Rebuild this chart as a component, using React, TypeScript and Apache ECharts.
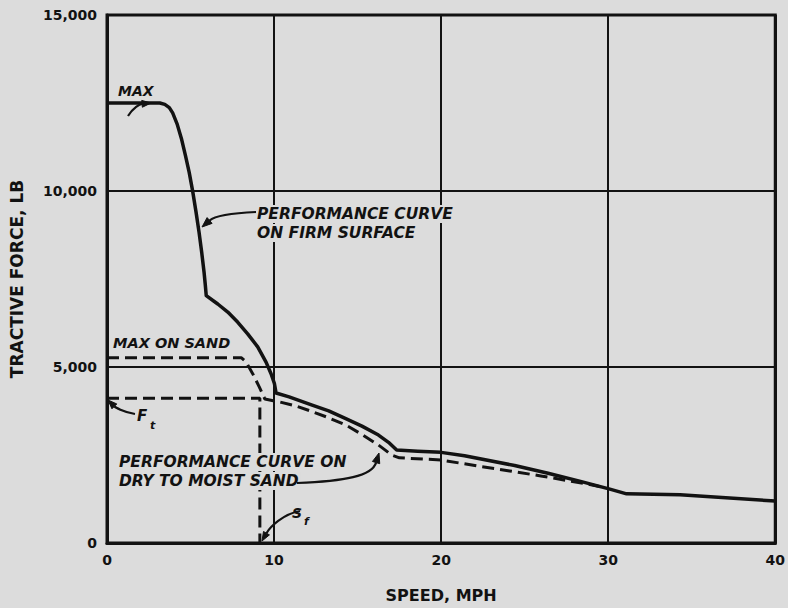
import React, { useEffect, useRef } from "react";
import * as echarts from "echarts";

// ---- data ----
const speedTicks = [0, 10, 20, 30, 40];
const forceTicks = [0, 5000, 10000, 15000];

// Performance curve on firm surface (speed mph, tractive force lb)
const firmSurface: [number, number][] = [
  [0, 12500], [3.16, 12500], [3.46, 12460], [3.73, 12370], [3.93, 12220],
  [4.2, 11900], [4.47, 11460], [4.7, 11000], [4.92, 10530], [5.13, 9990],
  [5.33, 9400], [5.51, 8830], [5.67, 8250], [5.81, 7690], [5.88, 7350],
  [5.94, 7030], [6.63, 6790], [7.23, 6560], [7.83, 6270], [8.42, 5940],
  [9.02, 5570], [9.52, 5140], [9.82, 4810], [10.02, 4530], [10.12, 4260],
  [10.9, 4150], [12.28, 3915], [13.27, 3755], [14.26, 3540], [15.26, 3320],
  [16.25, 3066], [16.85, 2860], [17.34, 2640], [18.6, 2610], [20, 2575],
  [21.4, 2480], [24.4, 2200], [26.4, 1980], [28.4, 1745], [30.1, 1530],
  [31.1, 1396], [34.3, 1368], [40, 1190],
];

// Max on sand / performance curve on dry to moist sand
const sandCurve: [number, number][] = [
  [0, 5260], [8.05, 5260], [8.33, 5140], [8.72, 4810], [9.12, 4430],
  [9.45, 4090], [10.3, 4010], [11.29, 3896], [12.3, 3730], [13.27, 3557],
  [14.3, 3349], [15.26, 3085], [16.25, 2783], [17.04, 2500], [17.5, 2420],
  [20, 2358], [22.4, 2170], [24.1, 2047], [25.97, 1906], [27.66, 1765],
  [28.9, 1660], [29.6, 1590],
];

// Tractive force limit Ft and speed Sf
const tractiveLimit: [number, number][] = [
  [0, 4110], [9.15, 4110], [9.15, 0],
];

const BG = "#dcdcdc";
const INK = "#121212";
const FONT = "'DejaVu Sans', sans-serif";

function arrow(
  x1: number, y1: number, c1x: number, c1y: number,
  c2x: number, c2y: number, x2: number, y2: number, size = 9
): any[] {
  const dx = x2 - c2x;
  const dy = y2 - c2y;
  const len = Math.sqrt(dx * dx + dy * dy) || 1;
  const ux = dx / len;
  const uy = dy / len;
  const bx = x2 - ux * size;
  const by = y2 - uy * size;
  const px = -uy * size * 0.38;
  const py = ux * size * 0.38;
  return [
    {
      type: "bezierCurve",
      z: 120,
      shape: { x1, y1, cpx1: c1x, cpy1: c1y, cpx2: c2x, cpy2: c2y, x2: bx, y2: by },
      style: { stroke: INK, lineWidth: 2.2, fill: null },
    },
    {
      type: "polygon",
      z: 121,
      shape: { points: [[x2, y2], [bx + px, by + py], [bx - px, by - py]] },
      style: { fill: INK, stroke: INK, lineWidth: 1 },
    },
  ];
}

function label(text: string, x: number, y: number, size: number, masked = false, italic = true): any {
  return {
    type: "text",
    z: 110,
    x,
    y,
    style: {
      text,
      fill: INK,
      fontFamily: FONT,
      fontWeight: "bold",
      fontStyle: italic ? "italic" : "normal",
      fontSize: size,
      align: "left",
      verticalAlign: "middle",
      backgroundColor: masked ? BG : "transparent",
      padding: masked ? [1, 2, 1, 2] : 0,
    },
  };
}

export default function App() {
  const ref = useRef<HTMLDivElement>(null);

  useEffect(() => {
    if (!ref.current) return;
    const chart = echarts.init(ref.current, null, { renderer: "svg" });

    const lineStyleSolid = { color: INK, width: 3.5, type: "solid" as const, join: "round" as const };
    const dashed = { color: INK, width: 3, type: [12, 6] as any };

    chart.setOption({
      animation: false,
      backgroundColor: BG,
      grid: {
        left: 107,
        top: 15,
        width: 671,
        height: 530,
        show: true,
        borderColor: INK,
        borderWidth: 3,
        backgroundColor: "transparent",
      },
      xAxis: {
        type: "value",
        min: speedTicks[0],
        max: speedTicks[speedTicks.length - 1],
        interval: 10,
        name: "SPEED, MPH",
        nameLocation: "middle",
        nameGap: 44,
        nameTextStyle: { color: INK, fontFamily: FONT, fontWeight: "bold", fontSize: 16 },
        axisLine: { show: true, lineStyle: { color: INK, width: 3 } },
        axisTick: { show: false },
        axisLabel: {
          color: INK, fontFamily: FONT, fontWeight: "bold", fontSize: 14, margin: 10,
          formatter: (v: number) => (speedTicks.includes(v) ? String(v) : ""),
        },
        splitLine: { show: true, lineStyle: { color: INK, width: 2 } },
      },
      yAxis: {
        type: "value",
        min: forceTicks[0],
        max: forceTicks[forceTicks.length - 1],
        interval: 5000,
        name: "TRACTIVE FORCE, LB",
        nameLocation: "middle",
        nameGap: 82,
        nameRotate: 90,
        nameTextStyle: { color: INK, fontFamily: FONT, fontWeight: "bold", fontSize: 17 },
        axisLine: { show: true, lineStyle: { color: INK, width: 3 } },
        axisTick: { show: false },
        axisLabel: {
          color: INK, fontFamily: FONT, fontWeight: "bold", fontSize: 14, margin: 10,
          formatter: (v: number) => v.toLocaleString("en-US"),
        },
        splitLine: { show: true, lineStyle: { color: INK, width: 2 } },
      },
      series: [
        {
          name: "Performance curve on firm surface",
          type: "line",
          data: firmSurface,
          symbol: "none",
          lineStyle: lineStyleSolid,
          z: 5,
        },
        {
          name: "Performance curve on dry to moist sand",
          type: "line",
          data: sandCurve,
          symbol: "none",
          lineStyle: dashed,
          z: 4,
        },
        {
          name: "Ft / Sf",
          type: "line",
          data: tractiveLimit,
          symbol: "none",
          lineStyle: dashed,
          z: 4,
        },
      ],
      graphic: [
        label("MAX", 118, 91, 14),
        ...arrow(128, 116, 133, 108, 140, 104, 151, 103, 9),
        label("PERFORMANCE CURVE", 255, 214, 15.5, true),
        label("ON FIRM SURFACE", 255, 233, 15.5, true),
        ...arrow(256, 212, 235, 213, 216, 215, 202, 227, 10),
        label("MAX ON SAND", 113, 343, 14.5),
        label("F", 137, 416, 15),
        label("t", 150, 425, 11),
        ...arrow(135, 414, 123, 412, 115, 407, 108, 400, 9),
        label("PERFORMANCE CURVE ON", 117, 462, 15.5, true),
        label("DRY TO MOIST SAND", 117, 481, 15.5, true),
        ...arrow(297, 483, 345, 481, 372, 476, 379, 453, 10),
        label("S", 292, 513, 14),
        label("f", 304, 521, 11),
        ...arrow(300, 511, 283, 514, 270, 527, 262, 541, 9),
      ],
    });

    return () => chart.dispose();
  }, []);

  return (
    <div
      ref={ref}
      style={{ position: "absolute", left: 0, top: 0, width: 788, height: 608 }}
    />
  );
}
